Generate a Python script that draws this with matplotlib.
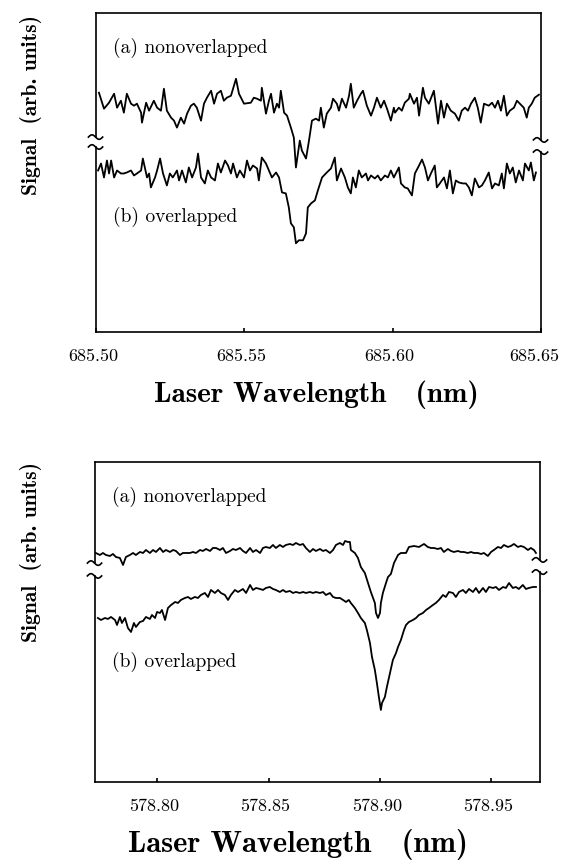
import numpy as np
import matplotlib
matplotlib.use("Agg")
import matplotlib.pyplot as plt
import matplotlib.transforms as mtransforms

# ---- 685 nm scan ----
wl_685_a = [685.5010, 685.5027, 685.5044, 685.5061, 685.5071, 685.5084, 685.5094, 685.5104, 685.5118, 685.5128,
            685.5138, 685.5152, 685.5155, 685.5169, 685.5179, 685.5195, 685.5206, 685.5219, 685.5229, 685.5239,
            685.5253, 685.5263, 685.5273, 685.5286, 685.5297, 685.5307, 685.5320, 685.5330, 685.5340, 685.5354,
            685.5364, 685.5374, 685.5388, 685.5398, 685.5408, 685.5421, 685.5431, 685.5441, 685.5455, 685.5472,
            685.5482, 685.5499,
            685.5522, 685.5532, 685.5543, 685.5556, 685.5559, 685.5573, 685.5583, 685.5590, 685.5600, 685.5610,
            685.5617, 685.5623, 685.5634, 685.5644, 685.5657, 685.5667, 685.5674, 685.5687, 685.5694, 685.5708,
            685.5718, 685.5728, 685.5741, 685.5752, 685.5758, 685.5768, 685.5778, 685.5792, 685.5799, 685.5812,
            685.5819, 685.5829, 685.5843, 685.5853, 685.5859, 685.5869, 685.5880, 685.5893, 685.5900, 685.5913,
            685.5927, 685.5937, 685.5947, 685.5960, 685.5971, 685.5981, 685.5994, 685.6004,
            685.6008, 685.6021, 685.6031, 685.6041, 685.6055, 685.6058, 685.6072, 685.6082, 685.6089, 685.6102,
            685.6109, 685.6122, 685.6139, 685.6153, 685.6163, 685.6173, 685.6183, 685.6196, 685.6210, 685.6223,
            685.6233, 685.6244, 685.6254, 685.6264, 685.6277, 685.6287, 685.6297, 685.6308, 685.6324, 685.6335,
            685.6345, 685.6355, 685.6365, 685.6375, 685.6385, 685.6395, 685.6409, 685.6419, 685.6429, 685.6442,
            685.6452, 685.6459, 685.6469, 685.6479, 685.6493]
sig_685_a = [240, 224, 230, 239, 225, 232, 220, 239, 229, 227,
             229, 220, 210, 230, 222, 232, 225, 222, 244, 222,
             215, 212, 205, 215, 209, 219, 227, 229, 225, 212,
             229, 235, 242, 229, 239, 242, 232, 235, 237, 254,
             239, 229,
             230, 235, 234, 232, 245, 219, 232, 239, 220, 229,
             225, 242, 220, 217, 205, 195, 165, 192, 182, 174,
             192, 212, 214, 212, 225, 205, 219, 225, 234, 229,
             222, 234, 225, 237, 249, 225, 232, 239, 242, 227,
             217, 225, 235, 225, 232, 224, 212, 225,
             220, 225, 222, 230, 234, 239, 229, 235, 217, 245,
             235, 229, 242, 209, 232, 215, 229, 222, 219, 212,
             222, 225, 222, 229, 235, 225, 210, 229, 227, 230,
             225, 232, 222, 237, 217, 222, 225, 232, 229, 225,
             215, 225, 229, 235, 238]

wl_685_b = [685.5007, 685.5017, 685.5027, 685.5037, 685.5044, 685.5051, 685.5061, 685.5071, 685.5084, 685.5094,
            685.5104, 685.5118, 685.5128, 685.5138, 685.5152, 685.5158, 685.5172, 685.5179, 685.5185, 685.5199,
            685.5206, 685.5216, 685.5226, 685.5239, 685.5249, 685.5259, 685.5273, 685.5280, 685.5290, 685.5303,
            685.5313, 685.5324, 685.5337, 685.5344, 685.5354, 685.5367, 685.5377, 685.5388, 685.5401, 685.5411,
            685.5421, 685.5435, 685.5445, 685.5455, 685.5462, 685.5475, 685.5485, 685.5499,
            685.5509, 685.5519, 685.5529, 685.5543, 685.5549, 685.5559, 685.5573, 685.5583, 685.5593, 685.5607,
            685.5617, 685.5627, 685.5640, 685.5650, 685.5657, 685.5667, 685.5674, 685.5684, 685.5698, 685.5708,
            685.5714, 685.5725, 685.5738, 685.5748, 685.5762, 685.5778, 685.5792, 685.5805, 685.5812, 685.5826,
            685.5839, 685.5849, 685.5859, 685.5866, 685.5876, 685.5886, 685.5896, 685.5910, 685.5917, 685.5927,
            685.5940, 685.5950, 685.5960, 685.5974, 685.5984, 685.5994, 685.6004,
            685.6021, 685.6028, 685.6041, 685.6051, 685.6065, 685.6075, 685.6089, 685.6099, 685.6109, 685.6119,
            685.6129, 685.6142, 685.6149, 685.6159, 685.6173, 685.6183, 685.6193, 685.6203, 685.6213, 685.6223,
            685.6237, 685.6247, 685.6257, 685.6267, 685.6277, 685.6291, 685.6301, 685.6311, 685.6324, 685.6335,
            685.6345, 685.6358, 685.6368, 685.6375, 685.6385, 685.6395, 685.6405, 685.6415, 685.6426, 685.6439,
            685.6446, 685.6459, 685.6466, 685.6476, 685.6483]
sig_685_b = [162, 169, 155, 172, 159, 172, 155, 162, 159, 159,
             160, 162, 157, 159, 162, 174, 155, 159, 145, 155,
             162, 174, 159, 147, 159, 155, 162, 152, 162, 150,
             165, 155, 165, 179, 155, 149, 162, 155, 152, 169,
             160, 172, 167, 159, 169, 155, 162, 155,
             172, 162, 167, 164, 152, 175, 169, 162, 155, 160,
             155, 140, 139, 125, 109, 105, 89, 92, 92, 99,
             125, 129, 132, 142, 155, 160, 164, 175, 152, 164,
             155, 145, 139, 155, 145, 162, 155, 159, 152, 157,
             154, 157, 152, 157, 155, 162, 155,
             165, 149, 145, 144, 137, 159, 167, 173, 165, 152,
             159, 167, 145, 149, 155, 144, 162, 139, 152, 150,
             149, 149, 145, 137, 154, 145, 147, 152, 160, 144,
             149, 147, 159, 144, 169, 159, 165, 150, 162, 152,
             169, 162, 170, 152, 160]

# ---- 578 nm scan ----
wl_578_a = [578.7724, 578.7742, 578.7756, 578.7769, 578.7787, 578.7801, 578.7814, 578.7832, 578.7846, 578.7859,
            578.7877, 578.7891, 578.7904, 578.7922, 578.7936, 578.7949, 578.7967, 578.7981, 578.7994, 578.8012,
            578.8026, 578.8039, 578.8057, 578.8071, 578.8084, 578.8102, 578.8115, 578.8129, 578.8147, 578.8160,
            578.8174, 578.8192, 578.8205, 578.8219, 578.8237, 578.8250, 578.8264, 578.8282, 578.8295, 578.8309,
            578.8327, 578.8340, 578.8354, 578.8372, 578.8385,
            578.8399, 578.8417, 578.8430, 578.8444, 578.8462, 578.8475, 578.8488, 578.8506, 578.8520, 578.8533,
            578.8551, 578.8565, 578.8578, 578.8596, 578.8610, 578.8623, 578.8641, 578.8655, 578.8668, 578.8686,
            578.8700, 578.8713, 578.8731, 578.8745, 578.8758, 578.8776, 578.8790, 578.8803, 578.8821, 578.8835,
            578.8844, 578.8857, 578.8866, 578.8870, 578.8888, 578.8902, 578.8915, 578.8933, 578.8947, 578.8960,
            578.8978, 578.8983, 578.8992, 578.9001, 578.9005, 578.9014, 578.9028, 578.9037, 578.9050,
            578.9064, 578.9082, 578.9095, 578.9118, 578.9131, 578.9154, 578.9176, 578.9199, 578.9216, 578.9230,
            578.9243, 578.9261, 578.9275, 578.9288, 578.9306, 578.9320, 578.9333, 578.9351, 578.9365, 578.9378,
            578.9396, 578.9410, 578.9423, 578.9441, 578.9455, 578.9468, 578.9486, 578.9500, 578.9513, 578.9531,
            578.9545, 578.9558, 578.9576, 578.9589, 578.9603, 578.9621, 578.9634, 578.9648, 578.9666, 578.9679,
            578.9693, 578.9702]
sig_578_a = [229, 227, 229, 227, 226, 228, 225, 224, 217, 225,
             227, 229, 227, 230, 229, 232, 229, 232, 230, 234,
             230, 232, 230, 232, 231, 227, 229, 229, 229, 230,
             229, 232, 231, 233, 231, 234, 234, 232, 234, 229,
             231, 233, 232, 234, 231,
             229, 234, 230, 232, 229, 234, 235, 234, 237, 234,
             237, 235, 237, 238, 237, 239, 237, 238, 234, 230,
             233, 231, 233, 231, 232, 229, 232, 237, 239, 237,
             241, 240, 240, 232, 229, 224, 215, 209, 199, 190,
             179, 169, 164, 169, 179, 189, 199, 205, 208,
             219, 227, 229, 229, 235, 236, 235, 238, 235, 234,
             234, 233, 234, 230, 233, 231, 230, 231, 230, 230,
             229, 230, 229, 229, 228, 229, 226, 230, 232, 235,
             234, 237, 235, 236, 238, 235, 236, 235, 232, 234,
             232, 229]

wl_578_b = [578.7733, 578.7747, 578.7765, 578.7778, 578.7792, 578.7810, 578.7819, 578.7832, 578.7841, 578.7855,
            578.7868, 578.7882, 578.7895, 578.7904, 578.7922, 578.7936, 578.7949, 578.7967, 578.7976, 578.7990,
            578.7999, 578.8012, 578.8021, 578.8035, 578.8048, 578.8062, 578.8080, 578.8093, 578.8106, 578.8124,
            578.8138, 578.8151, 578.8169, 578.8183, 578.8196, 578.8214, 578.8228, 578.8241, 578.8259, 578.8273,
            578.8286, 578.8304, 578.8318, 578.8331, 578.8349, 578.8363, 578.8385,
            578.8399, 578.8417, 578.8430, 578.8444, 578.8462, 578.8475, 578.8488, 578.8506, 578.8520, 578.8533,
            578.8551, 578.8565, 578.8578, 578.8596, 578.8610, 578.8623, 578.8641, 578.8655, 578.8668, 578.8686,
            578.8700, 578.8713, 578.8731, 578.8745, 578.8758, 578.8776, 578.8790, 578.8803, 578.8821, 578.8835,
            578.8848, 578.8861, 578.8870, 578.8888, 578.8902, 578.8915, 578.8933, 578.8942, 578.8956, 578.8965,
            578.8978, 578.8987, 578.8996, 578.9005, 578.9010, 578.9023, 578.9032, 578.9046, 578.9059,
            578.9073, 578.9082, 578.9095, 578.9109, 578.9118, 578.9131, 578.9149, 578.9163, 578.9176, 578.9194,
            578.9208, 578.9221, 578.9239, 578.9252, 578.9266, 578.9284, 578.9297, 578.9311, 578.9329, 578.9342,
            578.9356, 578.9374, 578.9387, 578.9401, 578.9419, 578.9432, 578.9446, 578.9464, 578.9477, 578.9491,
            578.9509, 578.9522, 578.9536, 578.9554, 578.9567, 578.9581, 578.9598, 578.9612, 578.9625, 578.9643,
            578.9657, 578.9670, 578.9688, 578.9702]
sig_578_b = [164, 162, 164, 163, 165, 162, 157, 165, 159, 164,
             154, 150, 159, 155, 160, 161, 165, 163, 167, 164,
             170, 169, 172, 162, 174, 177, 180, 179, 182, 184,
             185, 183, 185, 184, 187, 189, 185, 192, 189, 192,
             189, 187, 182, 187, 192, 190, 193,
             189, 197, 192, 194, 193, 192, 194, 195, 193, 192,
             190, 192, 190, 191, 189, 190, 189, 190, 189, 190,
             189, 190, 189, 190, 187, 189, 185, 184, 184, 182,
             180, 182, 179, 174, 169, 164, 159, 152, 139, 125,
             112, 99, 85, 72, 79, 85, 95, 109, 122,
             129, 135, 142, 152, 157, 160, 162, 164, 167, 169,
             172, 174, 177, 179, 182, 187, 185, 190, 189, 185,
             190, 192, 189, 193, 190, 194, 189, 194, 190, 195,
             194, 195, 192, 195, 194, 199, 194, 195, 193, 197,
             193, 194, 195, 195]

ticks_685 = [685.50, 685.55, 685.60, 685.65]
ticks_578 = [578.80, 578.85, 578.90, 578.95]

RM = "cmr10"
BF = "cmb10"


def broken_spine(ax, x, y_lo, y_hi):
    # vertical frame line with a small "~" break
    kw = dict(transform=ax.transAxes, color="k", lw=1.2, clip_on=False)
    ax.plot([x, x], [0, y_lo], **kw)
    ax.plot([x, x], [y_hi, 1], **kw)
    t = np.linspace(0, 1, 25)
    for yb in (y_lo, y_hi):
        ax.plot(x - 0.017 + 0.032 * t, yb + 0.007 * np.sin(2 * np.pi * t), **kw)


def panel(rect, wl_a, sig_a, wl_b, sig_b, xlim, ticks, breaks):
    ax = fig.add_axes(rect)
    ax.plot(wl_a, sig_a, color="k", lw=1.3)
    ax.plot(wl_b, sig_b, color="k", lw=1.3)
    ax.set_xlim(xlim)
    ax.set_ylim(0, 320)
    ax.set_yticks([])
    ax.set_xticks(ticks)
    ax.set_xticklabels(["%.2f" % t for t in ticks], fontfamily=RM, fontsize=13)
    ax.tick_params(axis="x", direction="in", length=3, width=1.2, pad=12)
    # labels sit a little left of their ticks in the original
    for i, lab in enumerate(ax.get_xticklabels()):
        dx = -7 if (i == len(ticks) - 1 and ticks[-1] >= xlim[1]) else -3
        lab.set_transform(lab.get_transform() +
                          mtransforms.ScaledTranslation(dx / 100, 0, fig.dpi_scale_trans))
    for s in ("top", "bottom"):
        ax.spines[s].set_linewidth(1.2)
    ax.spines["left"].set_visible(False)
    ax.spines["right"].set_visible(False)
    broken_spine(ax, 0, breaks[0], breaks[1])
    broken_spine(ax, 1, breaks[2], breaks[3])
    ax.text(0.038, 0.89, "(a) nonoverlapped", transform=ax.transAxes,
            fontfamily=RM, fontsize=14, va="center")
    ax.text(0.038, breaks[4], "(b) overlapped", transform=ax.transAxes,
            fontfamily=RM, fontsize=14, va="center")
    return ax


fig = plt.figure(figsize=(5.61, 8.65), dpi=100)

panel([0.1711, 0.6162, 0.7932, 0.3688], wl_685_a, sig_685_a, wl_685_b, sig_685_b,
      (685.50, 685.65), ticks_685, (0.580, 0.611, 0.564, 0.602, 0.36))
panel([0.1693, 0.0960, 0.7932, 0.3699], wl_578_a, sig_578_a, wl_578_b, sig_578_b,
      (578.772, 578.972), ticks_578, (0.644, 0.684, 0.656, 0.694, 0.375))

fig.text(316 / 561, 1 - 395 / 865, "Laser Wavelength   (nm)", fontfamily=BF, fontsize=21,
         ha="center", va="center")
fig.text(298 / 561, 1 - 845 / 865, "Laser Wavelength   (nm)", fontfamily=BF, fontsize=22,
         ha="center", va="center")
fig.text(31 / 561, 1 - 105 / 865, "Signal  (arb. units)", fontfamily=BF, fontsize=15.5,
         ha="center", va="center", rotation=90)
fig.text(31 / 561, 1 - 552 / 865, "Signal  (arb. units)", fontfamily=BF, fontsize=15.5,
         ha="center", va="center", rotation=90)

fig.savefig("out.png", dpi=100)
